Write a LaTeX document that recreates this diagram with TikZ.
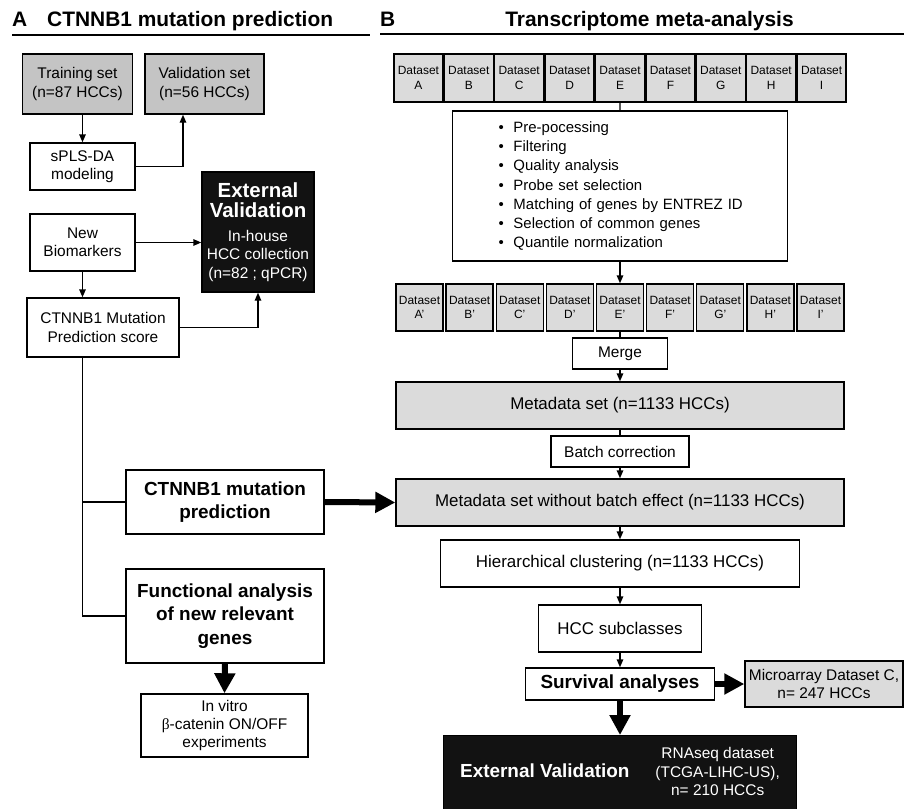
\documentclass[tikz,border=0pt]{standalone}
\usepackage{fontspec}
\setmainfont{Liberation Sans}
\newfontfamily\greekfont{Liberation Serif}
\usetikzlibrary{arrows.meta}

\definecolor{greyA}{HTML}{C4C4C4}
\definecolor{greyB}{HTML}{DBDBDB}

\newcommand\normtext{\fontsize{15.5}{18.5}\selectfont}
\newcommand\smalltext{\fontsize{12}{14.3}\selectfont}
\newcommand\listtext{\fontsize{15}{19.3}\selectfont}
\newcommand\midtext{\fontsize{17}{20}\selectfont}
\newcommand\boldtext{\fontsize{19}{23.3}\selectfont\bfseries}
\newcommand\headtext{\fontsize{21}{25}\selectfont\bfseries}
\newcommand\valtext{\fontsize{20.5}{23}\selectfont\bfseries}
\newcommand\mybul{\hspace*{16bp}\makebox[15bp][l]{\textbullet}}

\tikzset{
  box/.style={draw,line width=1.4bp,inner sep=0pt,align=center,font=\normtext},
  grey/.style={box,fill=greyA},
  light/.style={box,fill=greyB},
  dark/.style={box,fill=black!93,text=white},
  wh/.style 2 args={minimum width=#1bp,minimum height=#2bp},
  arr/.style={line width=1.4bp,-{Triangle[length=8bp,width=6.5bp]}},
  fat/.style={line width=6bp,-{Triangle[length=20bp,width=20bp]}},
  link/.style={line width=1.4bp}
}

\begin{document}
\begin{tikzpicture}[x=1bp,y=-1bp]
\useasboundingbox (0,0) rectangle (904,809);

% headings
\node[anchor=base west,inner sep=0pt,font=\headtext] (labA) at (12,27) {A};
\node[anchor=base west,inner sep=0pt,font=\headtext] (titleA) at (47,27) {CTNNB1 mutation prediction};
\draw[line width=2.2bp] (12,35) -- (370,35);
\node[anchor=base west,inner sep=0pt,font=\headtext] (labB) at (380,27) {B};
\node[anchor=base,inner sep=0pt,font=\headtext] (titleB) at (649.5,27) {Transcriptome meta-analysis};
\draw[line width=2.2bp] (380,34) -- (904,34);

% A: prediction
\node[grey,wh={110}{60}] (train) at (77.5,84) {Training set\\(n=87 HCCs)};
\node[grey,wh={119}{60}] (valid) at (204.5,84) {Validation set\\(n=56 HCCs)};
\node[box,wh={105}{47}] (spls) at (82.5,166.5) {sPLS-DA\\modeling};
\node[box,wh={105}{57}] (newbio) at (82.5,242.5) {New\\Biomarkers};
\node[dark,wh={112}{120}] (valA) at (258,232) {{\valtext External}\\[2bp]{\valtext Validation}\\[5bp]In-house\\HCC collection\\(n=82 ; qPCR)};
\node[box,wh={152}{59}] (score) at (103,327.5) {CTNNB1 Mutation\\Prediction score};
\node[box,wh={198}{64},font=\boldtext] (pred) at (225,502) {CTNNB1 mutation\\prediction};
\node[box,wh={198}{94},font=\boldtext] (func) at (225,616) {Functional analysis\\of new relevant\\genes};
\node[box,wh={167}{63}] (vitro) at (224.5,725.5) {In vitro\\{\greekfont β}-catenin ON/OFF\\experiments};
\coordinate (trunk) at (82.5,616);

\draw[arr] (train.south -| spls.north) -- (spls.north);
\draw[arr] (spls.east) -| ([xshift=-21.5bp]valid.south);
\draw[arr] (newbio.south) -- (score.north -| newbio.south);
\draw[arr] (newbio.east) -- (newbio.east -| valA.west);
\draw[arr] (score.east) -| (valA.south);
\draw[link] (score.south -| trunk) -- (trunk) -- (func.west);
\draw[link] (pred.west) -- (pred.west -| trunk);
\draw[fat] (func.south) -- (vitro.north);

% B: meta-analysis
\foreach \l [count=\i] in {A,...,I}
  \node[light,wh={49}{48},font=\smalltext] (d\l) at (418.4+50.4*\i-50.4,78) {Dataset\\\l};
\node[box,text width=275bp,inner xsep=30bp,minimum height=150bp,align=left,font=\listtext] (proc) at (620,186)
  {\mybul Pre-pocessing\\\mybul Filtering\\\mybul Quality analysis\\\mybul Probe set selection\\
   \mybul Matching of genes by ENTREZ ID\\\mybul Selection of common genes\\\mybul Quantile normalization};
\foreach \l [count=\i] in {A,...,I}
  \node[light,wh={47}{47},font=\smalltext] (p\l) at (419.5+50.125*\i-50.125,307.5) {Dataset\\\l'};
\node[box,wh={95}{31}] (merge) at (620,353.5) {Merge};
\node[light,wh={448}{47},font=\midtext] (meta) at (620,405.5) {Metadata set (n=1133 HCCs)};
\node[box,wh={138}{31}] (batch) at (620,451.5) {Batch correction};
\node[light,wh={448}{47},font=\midtext] (clean) at (620,502.5) {Metadata set without batch effect (n=1133 HCCs)};
\node[box,wh={359}{47},font=\midtext] (hier) at (620,563.5) {Hierarchical clustering (n=1133 HCCs)};
\node[box,wh={163}{47},font=\midtext] (sub) at (620,628.5) {HCC subclasses};
\node[box,wh={189}{32},font=\boldtext] (surv) at (620,684) {Survival analyses};
\node[light,wh={158}{46}] (micro) at (824,684) {Microarray Dataset C,\\n= 247 HCCs};
\node[dark,wh={353}{76},anchor=north] (valB) at (620,735)
  {{\boldtext External Validation}\hspace{26bp}\begin{tabular}{@{}c@{}}RNAseq dataset\\(TCGA-LIHC-US),\\n= 210 HCCs\end{tabular}};

\draw[link] (dE.south) -- (proc.north);
\draw[arr] (proc.south) -- (pE.north);
\draw[link] (pE.south) -- (merge.north);
\draw[arr] (merge.south) -- (meta.north);
\draw[link] (meta.south) -- (batch.north);
\draw[arr] (batch.south) -- (clean.north);
\draw[arr] (clean.south) -- (hier.north);
\draw[arr] (hier.south) -- (sub.north);
\draw[arr] (sub.south) -- (surv.north);
\draw[fat] (surv.east) -- (micro.west);
\draw[fat] (surv.south) -- (valB.north);
\draw[fat] (pred.east) -- (clean.west);
\end{tikzpicture}
\end{document}
